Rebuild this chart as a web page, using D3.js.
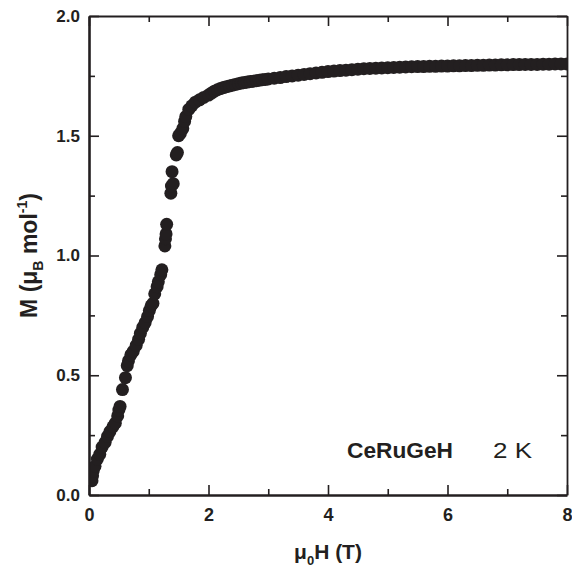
<!DOCTYPE html>
<html>
<head>
<meta charset="utf-8">
<script src="https://cdn.jsdelivr.net/npm/d3@7"></script>
<style>
  body { margin: 0; background: #fff; }
  svg { display: block; }
  text { font-family: "Liberation Sans", Arial, sans-serif; fill: #231f20; }
</style>
</head>
<body>
<div id="chart"></div>
<script>
// magnetisation of CeRuGeH at 2 K
const fieldT = [0.05, 0.06, 0.07, 0.10, 0.14, 0.18, 0.22, 0.27, 0.31, 0.35, 0.40, 0.44, 0.48, 0.50, 0.52,
  0.56, 0.61, 0.64, 0.66, 0.70, 0.74, 0.79, 0.83, 0.86, 0.90, 0.94, 0.98, 1.01, 1.04, 1.07, 1.10, 1.14,
  1.16, 1.20, 1.22, 1.27, 1.28, 1.29, 1.30, 1.37, 1.38, 1.39, 1.41, 1.46, 1.48, 1.50, 1.53, 1.57, 1.60,
  1.62, 1.67, 1.72, 1.78, 1.85, 1.92,
  2.00, 2.05, 2.10, 2.15, 2.20, 2.25, 2.30, 2.35, 2.40, 2.45, 2.50, 2.55, 2.60, 2.65, 2.70, 2.75, 2.80,
  2.85, 2.90, 2.95, 3.00, 3.10, 3.20, 3.30, 3.40, 3.50, 3.60, 3.70, 3.80, 3.90, 4.00, 4.10, 4.20, 4.30,
  4.40, 4.50, 4.60, 4.70, 4.80, 4.90, 5.00, 5.10, 5.20, 5.30, 5.40, 5.50, 5.60, 5.70, 5.80, 5.90, 6.00,
  6.10, 6.20, 6.30, 6.40, 6.50, 6.60, 6.70, 6.80, 6.90, 7.00, 7.10, 7.20, 7.30, 7.40, 7.50, 7.60, 7.70,
  7.80, 7.90, 8.00];
const momentMuB = [0.06, 0.08, 0.10, 0.12, 0.15, 0.17, 0.20, 0.22, 0.245, 0.265, 0.285, 0.30, 0.33, 0.355, 0.37,
  0.44, 0.49, 0.54, 0.56, 0.585, 0.60, 0.625, 0.65, 0.675, 0.70, 0.72, 0.745, 0.77, 0.79, 0.80, 0.84, 0.87,
  0.89, 0.92, 0.94, 1.04, 1.07, 1.09, 1.13, 1.26, 1.29, 1.35, 1.30, 1.42, 1.43, 1.50, 1.51, 1.53, 1.56,
  1.58, 1.61, 1.625, 1.64, 1.65, 1.66,
  1.670, 1.678, 1.686, 1.692, 1.697, 1.701, 1.705, 1.708, 1.711, 1.714, 1.717, 1.720, 1.722, 1.724, 1.726, 1.728, 1.730,
  1.732, 1.734, 1.735, 1.737, 1.740, 1.743, 1.747, 1.750, 1.753, 1.756, 1.759, 1.762, 1.765, 1.768, 1.770, 1.772, 1.774,
  1.776, 1.778, 1.780, 1.781, 1.782, 1.783, 1.784, 1.785, 1.786, 1.787, 1.788, 1.789, 1.789, 1.790, 1.790, 1.791, 1.791,
  1.792, 1.792, 1.793, 1.793, 1.794, 1.794, 1.795, 1.795, 1.796, 1.796, 1.797, 1.797, 1.798, 1.798, 1.798, 1.799, 1.799,
  1.800, 1.800, 1.800];

const xMajor = [0, 2, 4, 6, 8];
const xMinor = [1, 3, 5, 7];
const yMajor = [0.0, 0.5, 1.0, 1.5, 2.0];
const yMinor = [0.25, 0.75, 1.25, 1.75];

const width = 572, height = 567;
const margin = { top: 16, right: 5, bottom: 72, left: 89 };
const w = width - margin.left - margin.right;
const h = height - margin.top - margin.bottom;
const ink = "#231f20";

const svg = d3.select("#chart").append("svg")
  .attr("width", width)
  .attr("height", height);

const g = svg.append("g")
  .attr("transform", `translate(${margin.left},${margin.top})`);

const x = d3.scaleLinear().domain([0, 8]).range([0, w]);
const y = d3.scaleLinear().domain([0, 2]).range([h, 0]);

// clip so the dots stay inside the frame
g.append("clipPath").attr("id", "plotClip")
  .append("rect").attr("width", w).attr("height", h);

const data = fieldT.map((f, i) => ({ f, m: momentMuB[i] }));

g.append("g")
  .attr("clip-path", "url(#plotClip)")
  .selectAll("circle")
  .data(data)
  .join("circle")
  .attr("cx", d => x(d.f))
  .attr("cy", d => y(d.m))
  .attr("r", 6.5)
  .attr("fill", ink);

// axes: ticks point inward on all four sides
function styleAxis(sel, lw) {
  sel.select(".domain").attr("stroke", ink).attr("stroke-width", lw);
  sel.selectAll(".tick line").attr("stroke", ink).attr("stroke-width", 1.6);
}

const bottomAxis = g.append("g").attr("transform", `translate(0,${h})`)
  .call(d3.axisBottom(x).tickValues(xMajor).tickSizeInner(-10).tickSizeOuter(0).tickPadding(13).tickFormat(d3.format("d")));
styleAxis(bottomAxis, 2.6);
bottomAxis.selectAll(".tick text")
  .style("font-size", "18px").style("font-weight", "bold").attr("fill", ink);

g.append("g").attr("transform", `translate(0,${h})`)
  .call(d3.axisBottom(x).tickValues(xMinor).tickSizeInner(-6).tickSizeOuter(0).tickFormat(""))
  .call(s => styleAxis(s, 0));

const topAxis = g.append("g")
  .call(d3.axisTop(x).tickValues(xMajor).tickSizeInner(-10).tickSizeOuter(0).tickFormat(""));
styleAxis(topAxis, 1.8);
g.append("g")
  .call(d3.axisTop(x).tickValues(xMinor).tickSizeInner(-6).tickSizeOuter(0).tickFormat(""))
  .call(s => styleAxis(s, 0));

const leftAxis = g.append("g")
  .call(d3.axisLeft(y).tickValues(yMajor).tickSizeInner(-10).tickSizeOuter(0).tickPadding(9).tickFormat(d3.format(".1f")));
styleAxis(leftAxis, 2.6);
leftAxis.selectAll(".tick text")
  .style("font-size", "17px").style("font-weight", "bold").attr("fill", ink);

g.append("g")
  .call(d3.axisLeft(y).tickValues(yMinor).tickSizeInner(-6).tickSizeOuter(0).tickFormat(""))
  .call(s => styleAxis(s, 0));

const rightAxis = g.append("g").attr("transform", `translate(${w},0)`)
  .call(d3.axisRight(y).tickValues(yMajor).tickSizeInner(-10).tickSizeOuter(0).tickFormat(""));
styleAxis(rightAxis, 1.8);
g.append("g").attr("transform", `translate(${w},0)`)
  .call(d3.axisRight(y).tickValues(yMinor).tickSizeInner(-6).tickSizeOuter(0).tickFormat(""))
  .call(s => styleAxis(s, 0));

// axis titles
const xTitle = svg.append("text")
  .attr("x", margin.left + w / 2)
  .attr("y", 559)
  .attr("text-anchor", "middle")
  .style("font-size", "21px")
  .style("font-weight", "bold");
xTitle.append("tspan").text("μ");
xTitle.append("tspan").attr("dy", 6).style("font-size", "13px").text("0");
xTitle.append("tspan").attr("dy", -6).text("H (T)");

const yTitle = svg.append("text")
  .attr("transform", `translate(37,${margin.top + h / 2}) rotate(-90)`)
  .attr("text-anchor", "middle")
  .style("font-size", "23px")
  .style("font-weight", "bold");
yTitle.append("tspan").text("M (μ");
yTitle.append("tspan").attr("dy", 6).style("font-size", "14px").text("B");
yTitle.append("tspan").attr("dy", -6).text(" mol");
yTitle.append("tspan").attr("dy", -10).style("font-size", "14px").text("-1");
yTitle.append("tspan").attr("dy", 10).text(")");

// sample label
svg.append("text")
  .attr("x", 347).attr("y", 458)
  .attr("textLength", 106).attr("lengthAdjust", "spacingAndGlyphs")
  .style("font-size", "22px").style("font-weight", "bold")
  .text("CeRuGeH");
svg.append("text")
  .attr("x", 493).attr("y", 458)
  .attr("textLength", 39).attr("lengthAdjust", "spacingAndGlyphs")
  .style("font-size", "22px")
  .text("2 K");
</script>
</body>
</html>
